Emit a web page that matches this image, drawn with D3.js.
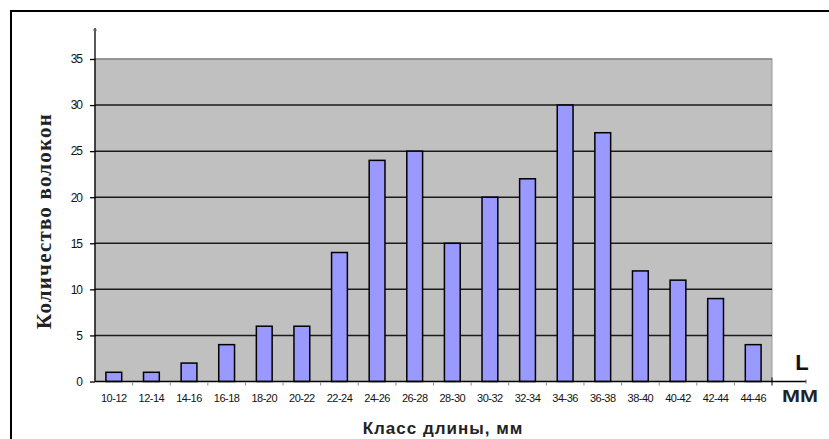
<!DOCTYPE html>
<html><head><meta charset="utf-8">
<script src="https://cdn.jsdelivr.net/npm/d3@7"></script>
<style>body{margin:0;background:#fff}svg{display:block}</style>
</head><body>
<script>
const categories = ["10-12","12-14","14-16","16-18","18-20","20-22","22-24","24-26","26-28","28-30","30-32","32-34","34-36","36-38","38-40","40-42","42-44","44-46"];
const values = [1,1,2,4,6,6,14,24,25,15,20,22,30,27,12,11,9,4];
const yTicks = [0,5,10,15,20,25,30,35];

(function () {
const W = 829, H = 439;
const svg = d3.select("body").append("svg").attr("width", W).attr("height", H);

// outer frame
svg.append("rect").attr("x", 11).attr("y", 11).attr("width", W + 10).attr("height", H + 10)
  .attr("fill", "none").attr("stroke", "#000").attr("stroke-width", 2);

const pL = 95, pR = 772, pT = 59, pB = 381.5;
const x = d3.scaleBand().domain(categories).range([pL, pR]).paddingInner(0.58).paddingOuter(0.29);
const xb = d3.scaleBand().domain(categories).range([pL, pR]);
const y = d3.scaleLinear().domain([0, 35]).range([pB, pT]);

// plot background
svg.append("rect").attr("x", pL).attr("y", pT).attr("width", pR - pL).attr("height", pB - pT)
  .attr("fill", "#c0c0c0").attr("stroke", "#999").attr("stroke-width", 1);

// gridlines
svg.append("g").selectAll("line").data(yTicks.filter(d => d > 0)).join("line")
  .attr("x1", pL).attr("x2", pR).attr("y1", d => y(d)).attr("y2", d => y(d))
  .attr("stroke", d => d === 35 ? "#888" : "#1a1a1a").attr("stroke-width", 1.5);

// bars
svg.append("g").selectAll("rect").data(values).join("rect")
  .attr("x", (d, i) => x(categories[i]))
  .attr("y", d => y(d))
  .attr("width", x.bandwidth())
  .attr("height", d => pB - y(d))
  .attr("fill", "#9999ff").attr("stroke", "#000").attr("stroke-width", 1.5);

// y axis
const yAxis = d3.axisLeft(y).tickValues(yTicks).tickSize(5).tickPadding(8);
const gy = svg.append("g").attr("transform", `translate(${pL},0)`).call(yAxis);
gy.select(".domain").remove();
gy.selectAll(".tick line").attr("stroke", "#000").attr("stroke-width", 1.3);
gy.selectAll("text").attr("font-family", "'Liberation Sans Narrow','Liberation Sans',Arial").attr("font-size", 12).attr("fill", "#111").attr("letter-spacing", -1);
svg.append("line").attr("x1", pL).attr("x2", pL).attr("y1", 28).attr("y2", pB).attr("stroke", "#000").attr("stroke-width", 1.3);
svg.append("line").attr("x1", pL - 2).attr("x2", pL + 2).attr("y1", 30).attr("y2", 30).attr("stroke", "#666").attr("stroke-width", 1);

// x axis
const xAxis = d3.axisBottom(x).tickSize(0).tickPadding(13);
const gx = svg.append("g").attr("transform", `translate(0,${pB})`).call(xAxis);
gx.select(".domain").remove();
gx.selectAll("text").attr("font-family", "'Liberation Sans Narrow','Liberation Sans',Arial").attr("font-size", 11).attr("fill", "#111").attr("letter-spacing", -0.5);
svg.append("line").attr("x1", pL).attr("x2", 806).attr("y1", pB).attr("y2", pB).attr("stroke", "#000").attr("stroke-width", 1.3);
svg.append("line").attr("x1", 806).attr("x2", 806).attr("y1", pB - 2).attr("y2", pB + 2).attr("stroke", "#666").attr("stroke-width", 1);
svg.append("g").selectAll("line").data(categories.slice(1)).join("line")
  .attr("x1", d => xb(d)).attr("x2", d => xb(d)).attr("y1", pB + 1).attr("y2", pB + 4)
  .attr("stroke", "#888").attr("stroke-width", 1);
svg.append("line").attr("x1", pR).attr("x2", pR).attr("y1", pB - 4).attr("y2", pB + 4).attr("stroke", "#000").attr("stroke-width", 1);

// titles
svg.append("text").attr("x", 443).attr("y", 434).attr("text-anchor", "middle")
  .attr("font-family", "'Liberation Sans',Arial").attr("font-weight", "bold").attr("font-size", 17).attr("fill", "#222").attr("letter-spacing", 1)
  .text("Класс длины, мм");
svg.append("text").attr("transform", "translate(51,221) rotate(-90)").attr("text-anchor", "middle")
  .attr("font-family", "'Liberation Serif','Times New Roman',serif").attr("font-weight", "bold").attr("font-size", 21).attr("fill", "#222").attr("letter-spacing", 1.2)
  .text("Количество волокон");
svg.append("text").attr("x", 802).attr("y", 370).attr("text-anchor", "middle")
  .attr("font-family", "'Liberation Sans',Arial").attr("font-weight", "bold").attr("font-size", 22).attr("fill", "#111").text("L");
svg.append("text").attr("x", 800).attr("y", 402).attr("text-anchor", "middle")
  .attr("font-family", "'Liberation Sans',Arial").attr("font-weight", "bold").attr("font-size", 17).attr("fill", "#222")
  .attr("textLength", 36).attr("lengthAdjust", "spacingAndGlyphs").text("MM");
})();
</script>
</body></html>
